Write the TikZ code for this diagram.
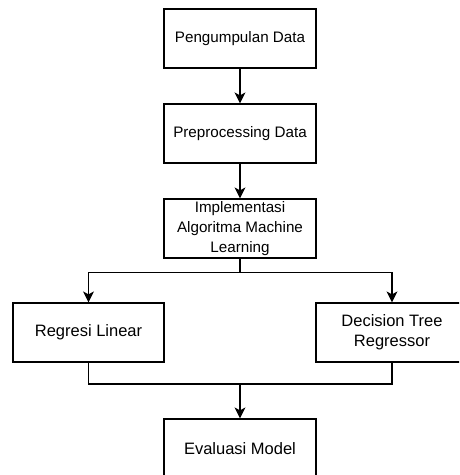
\documentclass[tikz,border=0pt]{standalone}
\usepackage{fontspec}
\setmainfont{Liberation Sans}
\usetikzlibrary{arrows.meta}

\begin{document}
\begin{tikzpicture}[x=1pt,y=-1pt]
        \tikzstyle{tahap}=[rectangle,draw,line width=1.2pt,minimum width=152pt,minimum height=59pt,inner sep=2pt,align=center,font=\fontsize{15.2}{20}\selectfont]
        \tikzstyle{model}=[tahap,minimum width=151pt,font=\fontsize{16.5}{20}\selectfont]
        \tikzstyle{alur}=[line width=1.2pt,-{Stealth[length=11pt,width=11pt,inset=3pt]}]
        \useasboundingbox (0,0) rectangle (459,475);
        \clip (0,0) rectangle (459,475);
        \node[tahap] (kumpul) at (240,38.5) {Pengumpulan Data};
        \node[tahap] (prepro) at (240,133.5) {Preprocessing Data};
        \node[tahap] (impl) at (240,228.5) {Implementasi\\Algoritma Machine\\Learning};
        \node[model] (regresi) at (88.5,332.5) {Regresi Linear};
        \node[model,minimum width=152pt] (dtree) at (392,332.5) {Decision Tree\\Regressor};
        \node[model,minimum width=152pt] (eval) at (240,448.5) {Evaluasi Model};
        \coordinate (gabung) at (240,384);
        % alur utama
        \draw[alur] (kumpul) -- (prepro);
        \draw[alur] (prepro) -- (impl);
        \draw[alur] (impl.south) -- ++(0,14) -| (regresi.north);
        \draw[alur] (impl.south) -- ++(0,14) -| (dtree.north);
        \draw[line width=1.2pt] (regresi.south) |- (gabung) -| (dtree.south);
        \draw[alur] (gabung) -- (eval);
\end{tikzpicture}
\end{document}
